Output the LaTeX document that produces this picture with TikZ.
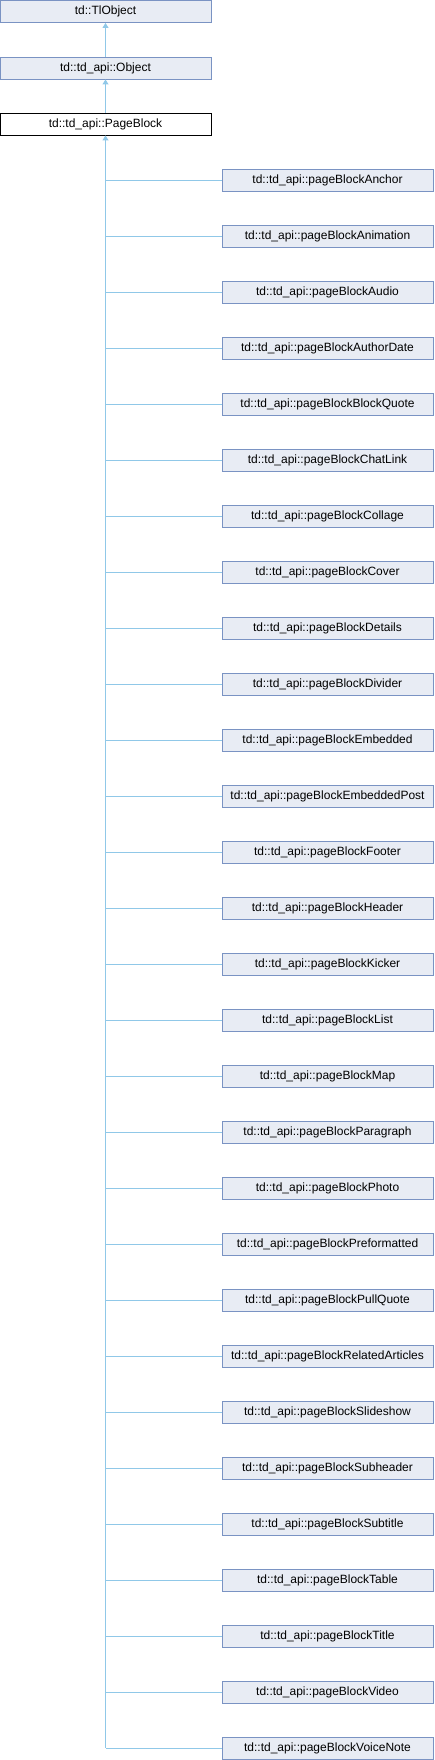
\documentclass[tikz,border=0pt]{standalone}
\usepackage{fontspec}
\setmainfont{Liberation Sans}
\usetikzlibrary{arrows.meta}
\definecolor{boxfill}{HTML}{E8ECF4}
\definecolor{boxdraw}{HTML}{7A93C3}
\definecolor{edgeblue}{HTML}{90C8E8}
\tikzset{
% Class boxes: base classes and the one the page is about
class node/.style={rectangle,draw=boxdraw,fill=boxfill,line width=0.9,minimum height=22,inner sep=0,font=\fontsize{12}{14}\selectfont},
current node/.style={class node,draw=black,fill=white},
edge line/.style={draw=edgeblue,line width=0.9},
inherit edge/.style={edge line,-{Triangle[width=6,length=5]}}
}

\begin{document}
\begin{tikzpicture}[x=1pt,y=-1pt]
  \useasboundingbox (0,0) rectangle (434,1760);
  \node[class node, minimum width=211] (tiobject) at (105.5,11.5) {td::TlObject};
  \node[class node, minimum width=211] (object) at (105.5,68) {td::td\_api::Object};
  \node[current node, minimum width=211] (pageblock) at (105.5,124) {td::td\_api::PageBlock};
  \draw[inherit edge] (object) -- (tiobject);
  \draw[inherit edge] (pageblock) -- (object);
  % derived classes
  \foreach \name [count=\i] in {Anchor, Animation, Audio, AuthorDate, BlockQuote,
    ChatLink, Collage, Cover, Details, Divider, Embedded, EmbeddedPost, Footer,
    Header, Kicker, List, Map, Paragraph, Photo, Preformatted, PullQuote,
    RelatedArticles, Slideshow, Subheader, Subtitle, Table, Title, Video, VoiceNote}
  {
    \node[class node, minimum width=211] (c\i) at (327.5,124+56*\i) {td::td\_api::pageBlock\name};
    \draw[edge line] (c\i.west) -- (c\i.west -| pageblock);
  }
  \draw[inherit edge] (c29.west -| pageblock) -- (pageblock);
\end{tikzpicture}
\end{document}
